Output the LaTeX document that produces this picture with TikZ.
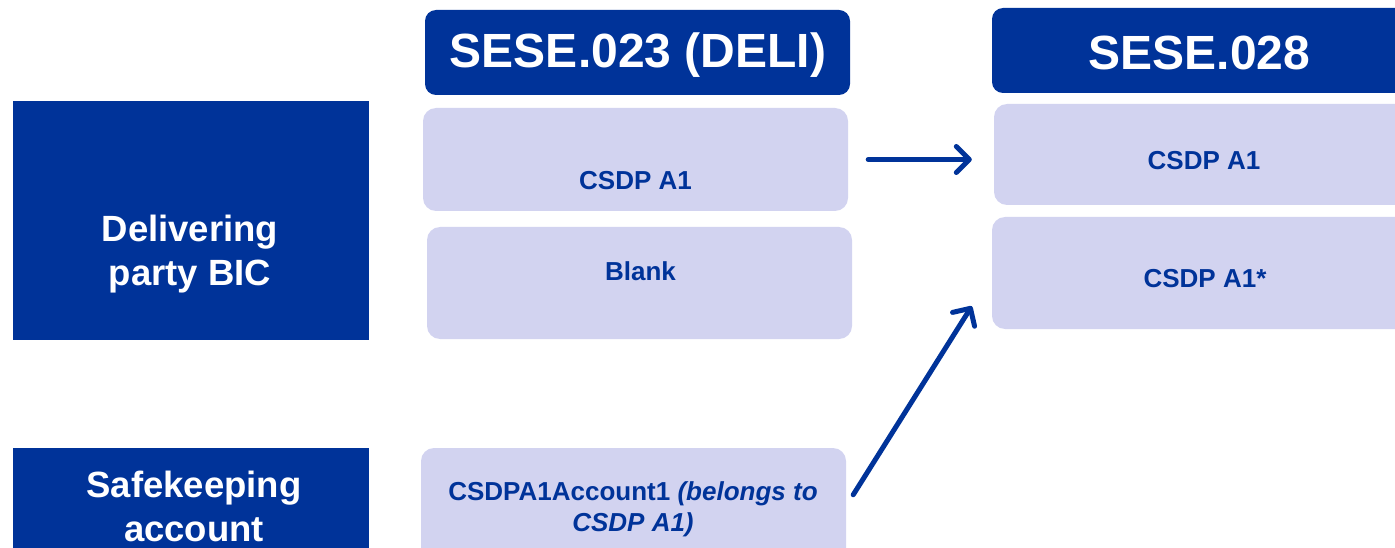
\documentclass[tikz,border=0pt]{standalone}
\usepackage{fontspec}
\setmainfont{Liberation Sans}
\usetikzlibrary{arrows.meta,calc}
\definecolor{ecbblue}{RGB}{0,51,153}
\definecolor{lav}{RGB}{210,211,240}
\tikzset{
  hdr/.style={fill=ecbblue, draw=none, rounded corners=11pt, inner sep=0pt},
  side/.style={fill=ecbblue, draw=none, inner sep=0pt},
  cell/.style={fill=lav, draw=none, rounded corners=13pt, inner sep=0pt},
  hdrtxt/.style={text=white, font=\bfseries\fontsize{48}{56}\selectfont, inner sep=0pt},
  sidetxt/.style={text=white, font=\bfseries\fontsize{36.5}{44}\selectfont, align=center, inner sep=0pt},
  celltxt/.style={text=ecbblue, font=\bfseries\fontsize{26}{31}\selectfont, align=center, inner sep=0pt},
  flow/.style={draw=ecbblue, line width=5pt, line cap=round, line join=round,
    -{Straight Barb[length=13pt,width=26pt,line cap=round,line join=round]}}
}
\begin{document}
\begin{tikzpicture}[x=1pt,y=-1pt]
\useasboundingbox (0,0) rectangle (1395,548);
\clip (0,0) rectangle (1395,548);
% left column
\node[side, minimum width=356pt, minimum height=239pt] (dpb) at (191,220.5) {};
\node[sidetxt] (dpbt) at (190,254) {Delivering\\party BIC};
\node[side, minimum width=356pt, minimum height=130pt] (ska) at (191,513) {};
\node[sidetxt] (skat) at (194,506) {Safekeeping\\account};
% sese.023 column
\node[hdr, minimum width=425pt, minimum height=85pt] (h1) at (637.5,52.5) {};
\node[hdrtxt] (h1t) at (638,55) {SESE.023 (DELI)};
\node[cell, minimum width=425pt, minimum height=103pt] (a) at (635.5,159.5) {};
\node[celltxt] (at) at (635.5,181) {CSDP A1};
\node[cell, minimum width=425pt, minimum height=112pt] (b) at (639.5,283) {};
\node[celltxt] (bt) at (640.5,271.5) {Blank};
\node[cell, minimum width=425pt, minimum height=122pt] (c) at (633.5,509) {};
\node[celltxt] (ct) at (633,509) {CSDPA1Account1 \textit{(belongs to}\\\textit{CSDP A1)}};
% sese.028 column
\node[hdr, minimum width=425pt, minimum height=85pt] (h2) at (1204.5,50.5) {};
\node[hdrtxt] (h2t) at (1199.5,53) {SESE.028};
\node[cell, minimum width=424pt, minimum height=101pt] (d) at (1206,154.5) {};
\node[celltxt] (dt) at (1204,161) {CSDP A1};
\node[cell, minimum width=424pt, minimum height=112pt] (e) at (1204,273) {};
\node[celltxt] (et) at (1205,279) {CSDP A1*};
% arrows
\coordinate (s1) at ($(a.east)+(20,0)$);
\coordinate (e1) at ($(a.east -| d.west)+(-22,0)$);
\draw[flow] (s1) -- (e1);
\coordinate (s2) at ($(c.north east)+(7,47)$);
\coordinate (e2) at ($(e.south west)+(-20,-23)$);
\draw[flow] (s2) -- (e2);
\end{tikzpicture}
\end{document}
